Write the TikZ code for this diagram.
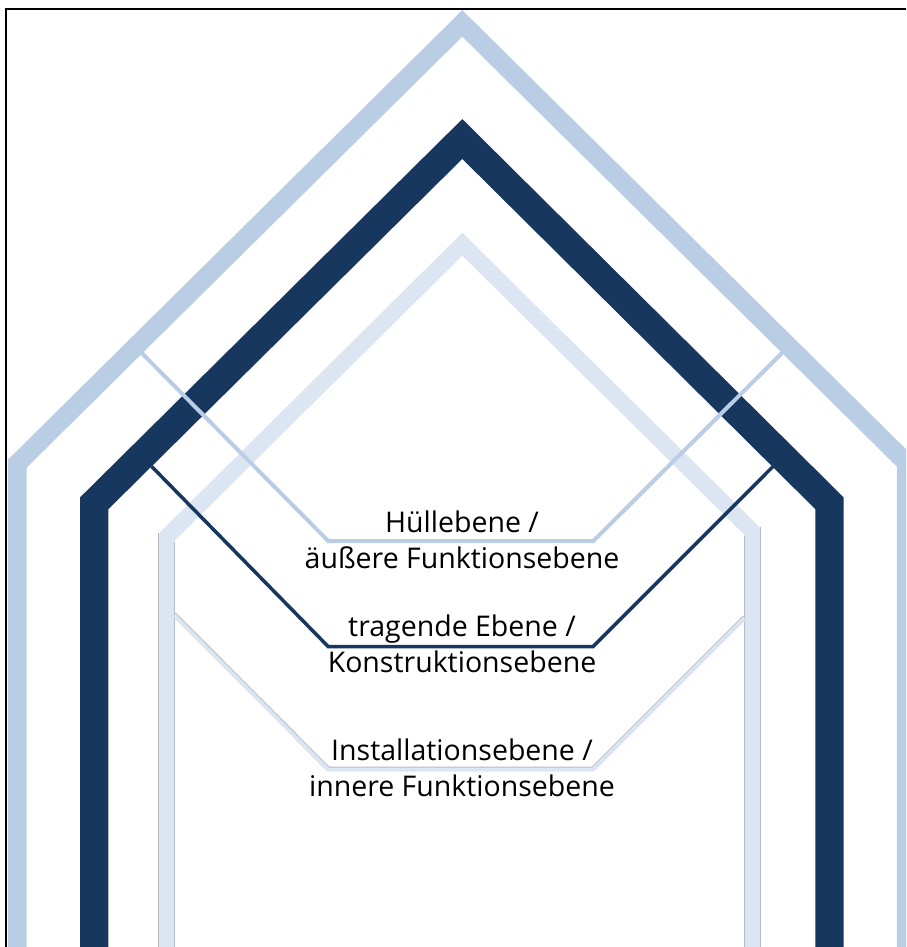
\documentclass[tikz,border=0pt]{standalone}
\usepackage{fontspec}
\newfontfamily\lblfont{Open Sans}
\definecolor{hull}{HTML}{B9CDE5}
\definecolor{trag}{HTML}{17375E}
\definecolor{inst}{HTML}{DCE6F2}
\definecolor{instedge}{HTML}{B4BCC8}
\tikzset{
  band/.style={line width=#1, line join=miter, line cap=butt},
  leader/.style={line width=#1, line join=miter},
  lbl/.style={font=\lblfont\fontsize{28.5}{36}\selectfont, align=center, inner sep=0pt, anchor=base},
}
\begin{document}
\begin{tikzpicture}[x=1pt,y=-1pt]
\useasboundingbox (0,0) rectangle (906,947);
\clip (0,0) rectangle (906,947);
\fill[white] (0,0) rectangle (906,947);
% frame
\draw[line width=2pt, black] (6,1000) -- (6,8.7) -- (1000,8.7);
% outer band (Huellebene)
\draw[band=18.8pt, hull] (17.2,1000) -- (17.2,463.8) -- (462.3,23.4) -- (906.2,462.6) -- (906.2,1000);
% structural band (tragende Ebene)
\draw[band=28.3pt, trag] (94.2,1000) -- (94.2,503.3) -- (462.3,139) -- (829.5,503.3) -- (829.5,1000);
% inner band (Installationsebene)
\draw[band=16.2pt, inst] (166.3,1000) -- (166.3,537.5) -- (462.3,244.2) -- (752.5,531.5) -- (752.5,1000);
\draw[line width=0.8pt, instedge] (158.2,533.4) -- (158.2,1000) (174.4,541.6) -- (174.4,1000);
\draw[line width=0.8pt, instedge] (744.4,535.6) -- (744.4,1000) (760.6,527.4) -- (760.6,1000);
% leader coordinates
\coordinate (h1) at (141.7,353);
\coordinate (h2) at (328.3,541);
\coordinate (h3) at (593.3,541);
\coordinate (h4) at (782,353);
\coordinate (t1) at (151.7,466.5);
\coordinate (t2) at (328.3,646.7);
\coordinate (t3) at (593,646.7);
\coordinate (t4) at (773,466.5);
\coordinate (i1) at (174.3,615);
\coordinate (i2) at (328.3,769.5);
\coordinate (i3) at (593,769.5);
\coordinate (i4) at (744.5,618);
% leaders
\draw[leader=4pt, hull] (h1) -- (h2) -- (h3) -- (h4);
\draw[leader=3.5pt, trag] (t1) -- (t2) -- (t3) -- (t4);
\draw[leader=4.6pt, instedge] ([yshift=0.6pt]i1) -- ([yshift=0.6pt]i2) -- ([yshift=0.6pt]i3) -- ([yshift=0.6pt]i4);
\draw[leader=3.6pt, inst] (i1) -- (i2) -- (i3) -- (i4);
% labels (base anchor = baseline of the last line)
\node[lbl] (huelle) at (462,568.3) {Hüllebene /\\äußere Funktionsebene};
\node[lbl] (tragend) at (462,672.7) {tragende Ebene /\\Konstruktionsebene};
\node[lbl] (install) at (462,796.7) {Installationsebene /\\innere Funktionsebene};
\end{tikzpicture}
\end{document}
